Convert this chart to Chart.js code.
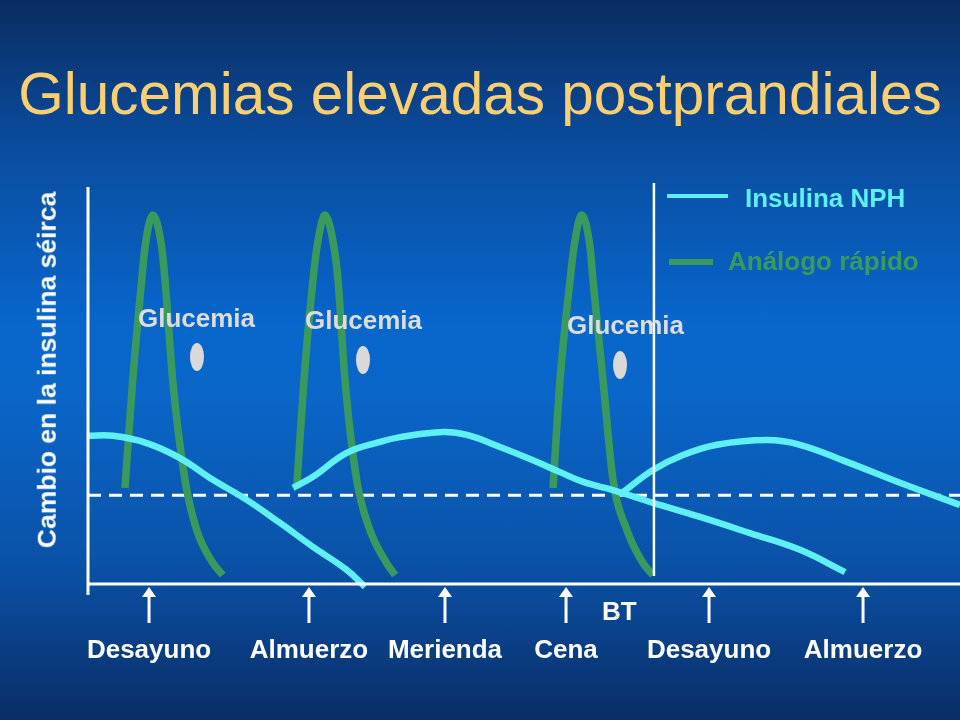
<!DOCTYPE html>
<html>
<head>
<meta charset="utf-8">
<script src="https://cdn.jsdelivr.net/npm/chart.js@4"></script>
<style>
  html, body { margin:0; padding:0; }
  body { width:960px; height:720px; overflow:hidden; font-family:"Liberation Sans", Arial, sans-serif;
    background: linear-gradient(to bottom, #0a2c60 0%, #0a4c9e 20%, #0866cc 45%, #0a66c8 55%, #0a52a8 78%, #0a2d66 100%); }
  #wrap { position:relative; width:960px; height:720px; }
  canvas { position:absolute; left:0; top:0; }
  .txt { position:absolute; white-space:nowrap; line-height:1; font-weight:bold; }
  h1 { position:absolute; left:0; top:65px; width:960px; margin:0; text-align:center; font-weight:normal;
    font-size:58.5px; line-height:1; color:#f9cf72; }
  .dot { position:absolute; width:14px; height:28px; border-radius:50%; background:#d9d9d9; transform:translate(-50%,-50%); }
  .key { position:absolute; }
</style>
</head>
<body>
<div id="wrap">
  <canvas id="chart" width="960" height="720"></canvas>
  <h1>Glucemias elevadas postprandiales</h1>
  <div class="txt" id="yTitle" style="left:47px;top:370px;font-size:26.5px;color:#fff;transform:translate(-50%,-50%) rotate(-90deg);">Cambio en la insulina séirca</div>
  <div id="notes"></div>
  <div class="key" style="left:667px;top:194px;width:61px;height:4px;background:#5ef0f5;"></div>
  <div class="txt" style="left:745px;top:185px;font-size:26px;color:#5ef0f5;">Insulina NPH</div>
  <div class="key" style="left:669px;top:259px;width:44px;height:6px;background:#3a9a5e;"></div>
  <div class="txt" style="left:728px;top:248px;font-size:26px;color:#3a9a5e;">Análogo rápido</div>
  <div class="txt" style="left:602px;top:598px;font-size:26px;color:#fff;">BT</div>
</div>
<script>
// Meals (x positions) and labels
const mealX = [7.0, 25.34, 40.94, 54.82, 71.22, 88.88];
const mealLabels = ['Desayuno', 'Almuerzo', 'Merienda', 'Cena', 'Desayuno', 'Almuerzo'];
const btX = 64.9;
const baseline = 20.8;

// Rapid analog peaks
const rapid1X = [4.24, 5.13, 6.16, 6.54, 7.42, 8.45, 8.83, 9.71, 11.12, 12.47, 14.33, 15.45];
const rapid2X = [23.93, 24.77, 25.80, 26.26, 27.18, 28.21, 28.67, 29.47, 30.81, 32.34, 34.25, 35.21];
const rapid3X = [53.33, 54.13, 55.28, 55.73, 56.62, 57.57, 57.91, 59.06, 60.21, 61.81, 63.65, 64.79];
const rapidY  = [22.5, 47.8, 71.2, 78.9, 86.4, 78.9, 71.2, 47.8, 24.4, 12.6, 4.9, 2.1];

// NPH insulin curves
const nph1X = [0, 2.87, 6.73, 10.55, 14.33, 18.20, 22.02, 25.80, 29.67, 31.77];
const nph1Y = [34.7, 34.7, 33.0, 29.5, 24.4, 19.7, 14.3, 8.7, 3.3, -0.7];
const nph2X = [23.51, 25.80, 29.67, 33.49, 35.78, 40.71, 43.46, 47.25, 51.03, 54.13, 56.77, 60.21, 64.79, 70.18, 75.92, 81.65, 86.81];
const nph2Y = [22.5, 25.1, 30.7, 33.3, 34.4, 35.6, 34.9, 32.1, 29.0, 26.2, 23.9, 22.0, 19.0, 15.7, 11.9, 8.0, 2.8];
const nph3X = [61.35, 64.79, 68.23, 72.13, 77.87, 81.65, 87.39, 93.12, 100];
const nph3Y = [21.5, 26.7, 30.2, 32.6, 33.7, 32.6, 28.3, 23.7, 18.5];

// Glucemia notes
const notes = [
  {left:138, top:305, dx:196.7, dy:357},
  {left:305, top:307, dx:363, dy:360},
  {left:567, top:312, dx:620, dy:365}
];

const CYAN = '#5ef0f5', GREEN = '#3a9a5e';
const pts = (xs, ys) => xs.map((x, i) => ({x, y: ys[i]}));

function curve(data, color, width, mode) {
  return { data, borderColor: color, borderWidth: width, pointRadius: 0, fill: false,
    tension: 0.4, cubicInterpolationMode: mode, borderCapStyle: 'butt', clip: false };
}

const notesEl = document.getElementById('notes');
notes.forEach(n => {
  notesEl.innerHTML += `<div class="txt" style="left:${n.left}px;top:${n.top}px;font-size:26px;color:#dcdcdc;">Glucemia</div>
    <div class="dot" style="left:${n.dx}px;top:${n.dy}px;"></div>`;
});

// axes, BT line and meal arrows
const decor = {
  id: 'decor',
  beforeDatasetsDraw(chart) {
    const {ctx, chartArea: a, scales: {x, y}} = chart;
    ctx.save();
    ctx.strokeStyle = '#fff';
    ctx.lineWidth = 3;
    ctx.setLineDash([13, 8]);
    ctx.beginPath();
    ctx.moveTo(a.left, y.getPixelForValue(baseline));
    ctx.lineTo(a.right, y.getPixelForValue(baseline));
    ctx.stroke();
    ctx.setLineDash([]);
    ctx.restore();
  },
  afterDatasetsDraw(chart) {
    const {ctx, chartArea: a, scales: {x, y}} = chart;
    ctx.save();
    ctx.strokeStyle = '#fff';
    ctx.fillStyle = '#fff';
    ctx.lineWidth = 3;
    ctx.beginPath();
    ctx.moveTo(a.left, 187); ctx.lineTo(a.left, 595);
    ctx.moveTo(a.left, a.bottom); ctx.lineTo(a.right, a.bottom);
    ctx.stroke();
    ctx.lineWidth = 2.5;
    const bx = x.getPixelForValue(btX);
    ctx.beginPath();
    ctx.moveTo(bx, 183); ctx.lineTo(bx, 576);
    ctx.stroke();
    mealX.forEach(m => {
      const px = x.getPixelForValue(m);
      ctx.lineWidth = 3;
      ctx.beginPath();
      ctx.moveTo(px, 594); ctx.lineTo(px, 623);
      ctx.stroke();
      ctx.beginPath();
      ctx.moveTo(px, 587); ctx.lineTo(px - 7, 597); ctx.lineTo(px + 7, 597);
      ctx.closePath(); ctx.fill();
    });
    ctx.restore();
  }
};

new Chart(document.getElementById('chart'), {
  type: 'line',
  data: {
    datasets: [
      curve(pts(nph1X, nph1Y), CYAN, 6.5, 'default'),
      curve(pts(nph2X, nph2Y), CYAN, 6.5, 'default'),
      curve(pts(nph3X, nph3Y), CYAN, 6.5, 'default'),
      curve(pts(rapid1X, rapidY), GREEN, 7.5, 'monotone'),
      curve(pts(rapid2X, rapidY), GREEN, 7.5, 'monotone'),
      curve(pts(rapid3X, rapidY), GREEN, 7.5, 'monotone')
    ]
  },
  options: {
    responsive: false, animation: false,
    layout: { padding: { left: 88, top: 157, right: 0, bottom: 0 } },
    plugins: { legend: { display: false }, tooltip: { enabled: false } },
    scales: {
      x: {
        type: 'linear', min: 0, max: 100,
        grid: { display: false, drawTicks: false }, border: { display: false },
        afterFit: s => { s.height = 136; s.paddingLeft = 0; s.paddingRight = 0; },
        afterBuildTicks: s => { s.ticks = mealX.map(v => ({value: v})); },
        ticks: { padding: 51, color: '#fff', font: { family: 'Liberation Sans', size: 26, weight: 'bold' },
          maxRotation: 0, autoSkip: false, callback: (v, i) => mealLabels[i] }
      },
      y: { min: 0, max: 100, display: false }
    }
  },
  plugins: [decor]
});
</script>
</body>
</html>
